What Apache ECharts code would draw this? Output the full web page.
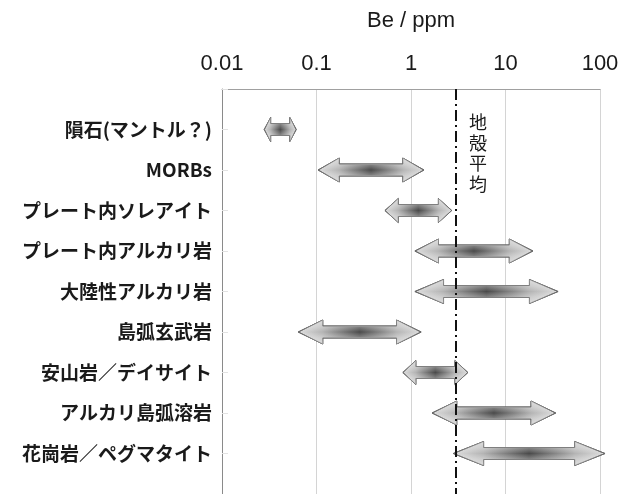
<!DOCTYPE html>
<html>
<head>
<meta charset="utf-8">
<script src="https://cdn.jsdelivr.net/npm/echarts@6/dist/echarts.min.js"></script>
<style>
  html, body { margin: 0; padding: 0; background: #fff; }
  #chart { width: 632px; height: 494px; }
</style>
</head>
<body>
<div id="chart"></div>
<script>
// Beryllium ranges (ppm) for each rock type
const rockTypes = [
  '隕石(マントル？)',
  'MORBs',
  'プレート内ソレアイト',
  'プレート内アルカリ岩',
  '大陸性アルカリ岩',
  '島弧玄武岩',
  '安山岩／デイサイト',
  'アルカリ島弧溶岩',
  '花崗岩／ペグマタイト'
];
const beLow  = [0.028, 0.104, 0.53, 1.10, 1.10, 0.064, 0.82, 1.67, 2.8];
const beHigh = [0.061, 1.37,  2.7,  19.5, 36,   1.28,  4.0,  34,   113];

const xTicks = [0.01, 0.1, 1, 10, 100];
const xTickLabels = ['0.01', '0.1', '1', '10', '100'];
const crustAverage = 3;
const crustLabel = '地殻平均';

const rows = rockTypes.map((name, i) => [beLow[i], beHigh[i], i + 1]);

const chart = echarts.init(document.getElementById('chart'), null, { renderer: 'canvas' });

function tickLabel(v) {
  for (let i = 0; i < xTicks.length; i++) {
    if (Math.abs(Math.log10(v) - Math.log10(xTicks[i])) < 1e-6) return xTickLabels[i];
  }
  return '';
}

// Double-headed arrow spanning [low, high] on its row
function renderArrow(params, api) {
  const a = api.coord([api.value(0), api.value(2)]);
  const b = api.coord([api.value(1), api.value(2)]);
  const y = a[1];
  const len = b[0] - a[0];
  const head = len * 0.2;
  const hh = 12, bh = 6;
  const pts = [
    [a[0], y], [a[0] + head, y - hh], [a[0] + head, y - bh],
    [b[0] - head, y - bh], [b[0] - head, y - hh], [b[0], y],
    [b[0] - head, y + hh], [b[0] - head, y + bh],
    [a[0] + head, y + bh], [a[0] + head, y + hh]
  ];
  return {
    type: 'group',
    children: [
      {
        type: 'polygon',
        shape: { points: pts },
        style: {
          fill: new echarts.graphic.LinearGradient(0, 0, 1, 0, [
            { offset: 0, color: '#dedede' },
            { offset: 0.2, color: '#b4b4b4' },
            { offset: 0.5, color: '#4a4a4a' },
            { offset: 0.8, color: '#b4b4b4' },
            { offset: 1, color: '#dedede' }
          ]),
          stroke: '#666666',
          lineWidth: 1
        }
      },
      {
        type: 'polygon',
        shape: { points: pts },
        silent: true,
        style: {
          fill: new echarts.graphic.LinearGradient(0, 0, 0, 1, [
            { offset: 0, color: 'rgba(255,255,255,0.55)' },
            { offset: 0.28, color: 'rgba(255,255,255,0.3)' },
            { offset: 0.5, color: 'rgba(255,255,255,0)' },
            { offset: 0.72, color: 'rgba(255,255,255,0.3)' },
            { offset: 1, color: 'rgba(255,255,255,0.55)' }
          ]),
          stroke: null
        }
      }
    ]
  };
}

chart.setOption({
  animation: false,
  backgroundColor: '#ffffff',
  grid: { left: 222, top: 89, width: 378, height: 407, containLabel: false },
  xAxis: {
    type: 'log',
    logBase: 10,
    min: 0.01,
    max: 100,
    position: 'top',
    name: 'Be / ppm',
    nameLocation: 'middle',
    nameGap: 57,
    nameTextStyle: { fontFamily: 'Liberation Sans, Arial, sans-serif', fontSize: 22, color: '#1a1a1a' },
    axisLine: { show: true, lineStyle: { color: '#a0a0a0', width: 1 } },
    axisTick: { show: false },
    axisLabel: {
      margin: 14,
      fontFamily: 'Liberation Sans, Arial, sans-serif',
      fontSize: 22,
      color: '#1a1a1a',
      formatter: tickLabel
    },
    splitLine: { show: true, lineStyle: { color: '#d4d4d4', width: 1 } }
  },
  yAxis: {
    type: 'value',
    min: 0,
    max: 10,
    interval: 1,
    inverse: true,
    axisLine: { show: true, lineStyle: { color: '#8a8a8a', width: 1 } },
    axisTick: { show: true, inside: true, length: 6, lineStyle: { color: '#e2e2e2' } },
    splitLine: { show: false },
    axisLabel: {
      margin: 10,
      fontFamily: 'Noto Sans CJK JP, sans-serif',
      fontWeight: 'bold',
      fontSize: 19,
      color: '#1a1a1a',
      formatter: v => rockTypes[v - 1] || ''
    }
  },
  series: [
    {
      type: 'custom',
      renderItem: renderArrow,
      encode: { x: [0, 1], y: 2 },
      data: rows,
      clip: false,
      z: 2
    },
    {
      type: 'line',
      data: [],
      z: 5,
      markLine: {
        silent: true,
        symbol: ['none', 'none'],
        label: { show: false },
        lineStyle: { color: '#111', width: 2, type: [11, 4, 2, 4] },
        data: [{ xAxis: crustAverage }]
      }
    }
  ]
});

// Vertical caption beside the crustal-average line
const cx = chart.convertToPixel({ xAxisIndex: 0 }, crustAverage);
chart.setOption({
  graphic: [{
    type: 'text',
    left: cx + 13,
    top: 112,
    style: {
      text: crustLabel.split('').join('\n'),
      font: '18px "Noto Sans CJK JP", sans-serif',
      lineHeight: 20.5,
      fill: '#1a1a1a',
      align: 'left'
    }
  }]
});
</script>
</body>
</html>
